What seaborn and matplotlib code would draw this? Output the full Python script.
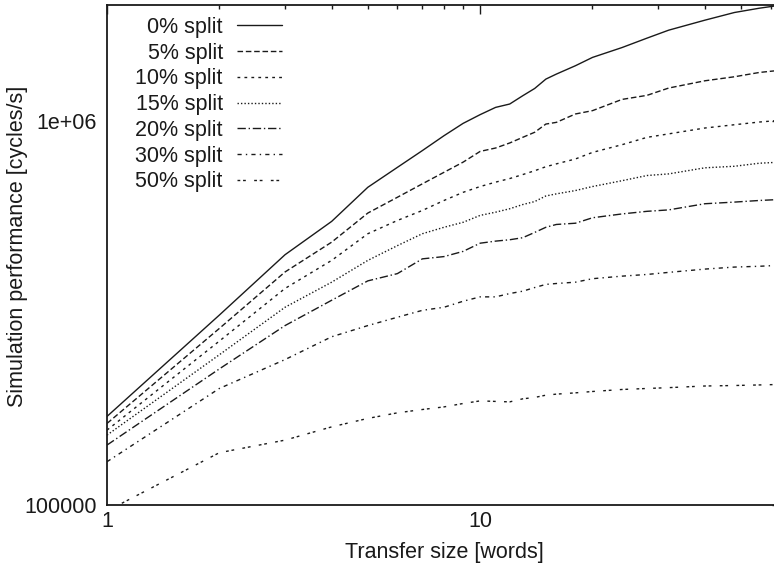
import numpy as np
import pandas as pd
import matplotlib
matplotlib.use("Agg")
import matplotlib.pyplot as plt
import seaborn as sns
from matplotlib.ticker import FixedLocator, FixedFormatter, NullFormatter

# ---- data ----
transfer_size = [1, 2, 3, 4, 5, 6, 7, 8, 9, 10, 11, 12, 13, 14, 15, 16, 18, 20, 24, 28, 32, 40, 48, 56, 62]

split_labels = ["0% split", "5% split", "10% split", "15% split",
                "20% split", "30% split", "50% split"]

perf_0 = [1.70e5, 3.12e5, 4.48e5, 5.47e5, 6.71e5, 7.56e5, 8.36e5, 9.14e5, 9.84e5, 1.037e6,
          1.083e6, 1.105e6, 1.161e6, 1.213e6, 1.283e6, 1.322e6, 1.39e6, 1.461e6, 1.55e6,
          1.64e6, 1.72e6, 1.826e6, 1.912e6, 1.962e6, 1.99e6]
perf_5 = [1.63e5, 2.88e5, 4.04e5, 4.83e5, 5.75e5, 6.32e5, 6.85e5, 7.34e5, 7.80e5, 8.32e5,
          8.49e5, 8.75e5, 9.05e5, 9.33e5, 9.80e5, 9.90e5, 1.041e6, 1.062e6, 1.136e6,
          1.164e6, 1.216e6, 1.27e6, 1.301e6, 1.335e6, 1.349e6]
perf_10 = [1.566e5, 2.67e5, 3.66e5, 4.33e5, 5.08e5, 5.50e5, 5.84e5, 6.20e5, 6.51e5, 6.74e5,
           6.92e5, 7.07e5, 7.24e5, 7.41e5, 7.59e5, 7.72e5, 7.95e5, 8.27e5, 8.66e5,
           9.05e5, 9.24e5, 9.57e5, 9.76e5, 9.92e5, 1.0e6]
perf_15 = [1.52e5, 2.46e5, 3.27e5, 3.80e5, 4.33e5, 4.73e5, 5.08e5, 5.28e5, 5.44e5, 5.67e5,
           5.78e5, 5.90e5, 6.05e5, 6.16e5, 6.37e5, 6.45e5, 6.58e5, 6.74e5, 6.98e5,
           7.20e5, 7.27e5, 7.54e5, 7.61e5, 7.75e5, 7.79e5]
perf_20 = [1.432e5, 2.26e5, 2.93e5, 3.41e5, 3.83e5, 4.00e5, 4.37e5, 4.43e5, 4.57e5, 4.80e5,
           4.86e5, 4.90e5, 4.96e5, 5.12e5, 5.28e5, 5.37e5, 5.41e5, 5.59e5, 5.72e5,
           5.81e5, 5.86e5, 6.08e5, 6.14e5, 6.20e5, 6.23e5]
perf_30 = [1.296e5, 2.01e5, 2.39e5, 2.74e5, 2.93e5, 3.08e5, 3.21e5, 3.27e5, 3.39e5, 3.48e5,
           3.48e5, 3.55e5, 3.60e5, 3.68e5, 3.75e5, 3.77e5, 3.80e5, 3.88e5, 3.94e5,
           3.98e5, 4.03e5, 4.11e5, 4.16e5, 4.18e5, 4.20e5]
perf_50 = [0.965e5, 1.368e5, 1.475e5, 1.597e5, 1.68e5, 1.737e5, 1.772e5, 1.80e5, 1.837e5, 1.866e5,
           1.86e5, 1.855e5, 1.889e5, 1.905e5, 1.931e5, 1.943e5, 1.958e5, 1.974e5, 1.998e5,
           2.01e5, 2.02e5, 2.04e5, 2.046e5, 2.053e5, 2.058e5]

series = [perf_0, perf_5, perf_10, perf_15, perf_20, perf_30, perf_50]

x_tick_values = [1, 10]
x_tick_labels = ["1", "10"]
y_tick_values = [1e5, 1e6]
y_tick_labels = ["100000", "1e+06"]

# ---- build long table ----
rows = []
for lab, vals in zip(split_labels, series):
    for xs, v in zip(transfer_size, vals):
        rows.append({"size": xs, "perf": v, "split": lab})
df = pd.DataFrame(rows)

sns.set_theme(style="white")
plt.rcParams['font.family'] = ['Liberation Sans', 'DejaVu Sans']
FS = 15.5
INK = "#1a1a1a"

fig = plt.figure(figsize=(7.74, 5.68), dpi=100)
ax = fig.add_axes([107 / 774, 63 / 568, 674 / 774, 500 / 568])

dash_styles = {
    "0% split": "",
    "5% split": (4, 2),
    "10% split": (2, 3),
    "15% split": (1, 1.5),
    "20% split": (6, 2, 1, 2),
    "30% split": (3, 3, 1, 3),
    "50% split": (2, 2, 2, 6),
}
palette = {lab: INK for lab in split_labels}

sns.lineplot(data=df, x="size", y="perf", hue="split", style="split",
             hue_order=split_labels, style_order=split_labels,
             palette=palette, dashes=dash_styles, linewidth=1.0,
             ax=ax, legend="full", estimator=None, sort=True)

ax.set_xscale("log")
ax.set_yscale("log")
ax.set_xlim(1, 64)
ax.set_ylim(1e5, 2e6)

ax.xaxis.set_major_locator(FixedLocator(x_tick_values))
ax.xaxis.set_major_formatter(FixedFormatter(x_tick_labels))
ax.xaxis.set_minor_locator(FixedLocator([2, 3, 4, 5, 6, 7, 8, 9, 20, 30, 40, 50, 60]))
ax.xaxis.set_minor_formatter(NullFormatter())
ax.yaxis.set_major_locator(FixedLocator(y_tick_values))
ax.yaxis.set_major_formatter(FixedFormatter(y_tick_labels))
ax.yaxis.set_minor_locator(FixedLocator([2e5, 3e5, 4e5, 5e5, 6e5, 7e5, 8e5, 9e5, 2e6]))
ax.yaxis.set_minor_formatter(NullFormatter())

ax.tick_params(which="both", direction="in", top=True, right=True,
               color=INK, labelcolor=INK, width=1.0, labelsize=FS)
ax.tick_params(which="major", length=6.5)
ax.tick_params(which="minor", length=3.2)
ax.tick_params(axis="x", which="major", pad=4)
ax.tick_params(axis="y", which="major", pad=7.5)

for sp in ax.spines.values():
    sp.set_linewidth(1.3)
    sp.set_color(INK)

ax.set_xlabel("Transfer size [words]", fontsize=FS, color=INK)
ax.set_ylabel("Simulation performance [cycles/s]", fontsize=FS, color=INK)
ax.xaxis.set_label_coords(0.5, -0.074)
ax.yaxis.set_label_coords(-0.117, 0.517)

handles, labels = ax.get_legend_handles_labels()
ax.legend(handles, labels, loc="upper right",
          bbox_to_anchor=(282 / 774, 1 - 17 / 568), bbox_transform=fig.transFigure,
          frameon=False, markerfirst=False, handlelength=2.1, handletextpad=0.65,
          labelspacing=0.22, borderpad=0, borderaxespad=0, fontsize=FS,
          labelcolor=INK)

fig.savefig("out.png", dpi=100)
